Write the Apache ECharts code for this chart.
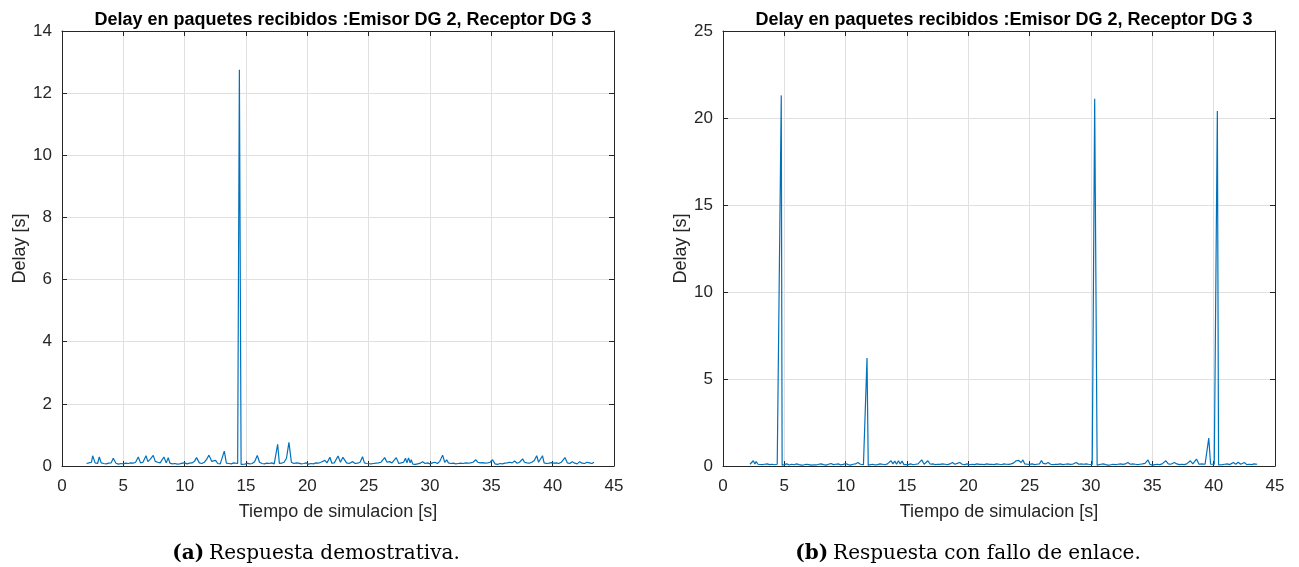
<!DOCTYPE html>
<html>
<head>
<meta charset="utf-8">
<script src="https://cdn.jsdelivr.net/npm/echarts@6/dist/echarts.min.js"></script>
<style>
html,body{margin:0;padding:0;background:#fff;}
#c{width:1299px;height:567px;}
</style>
</head>
<body>
<div id="c"></div>
<script>
// ---------- DATA ----------
const titleText = 'Delay en paquetes recibidos :Emisor DG 2, Receptor DG 3';
const xLabel = 'Tiempo de simulacion [s]';
const yLabel = 'Delay [s]';
const captionA = ['(a)', 'Respuesta demostrativa.'];
const captionB = ['(b)', 'Respuesta con fallo de enlace.'];

// (a) time [s] and delay [s]
const tA = [2.0,2.2,2.4,2.5,2.7,2.9,3.04,3.2,3.4,3.6,3.8,4.0,4.18,4.4,4.6,4.8,5.0,5.2,5.4,5.6,5.8,6.0,6.22,6.4,6.6,6.85,7.0,7.2,7.44,7.6,7.8,8.0,8.1,8.31,8.5,8.66,8.8,9.0,9.2,9.4,9.6,9.8,10.0,10.2,10.4,10.6,10.8,10.97,11.2,11.4,11.6,11.8,11.98,12.2,12.35,12.52,12.7,12.9,13.05,13.23,13.4,13.6,13.8,14.0,14.15,14.32,14.46,14.6,14.75,14.9,15.1,15.3,15.5,15.7,15.92,16.1,16.3,16.5,16.7,16.9,17.1,17.3,17.45,17.58,17.72,17.9,18.1,18.3,18.5,18.7,18.9,19.1,19.3,19.5,19.7,19.9,20.1,20.3,20.5,20.7,20.9,21.1,21.25,21.43,21.6,21.84,22.0,22.2,22.35,22.5,22.7,22.9,23.05,23.2,23.4,23.55,23.7,23.9,24.1,24.3,24.5,24.65,24.85,25.0,25.2,25.4,25.6,25.8,26.0,26.3,26.5,26.7,26.9,27.05,27.25,27.45,27.65,27.85,28.0,28.12,28.25,28.38,28.47,28.6,28.8,29.0,29.2,29.4,29.6,29.8,30.0,30.2,30.4,30.6,30.8,31.03,31.2,31.36,31.5,31.7,31.9,32.1,32.3,32.5,32.7,32.9,33.1,33.3,33.5,33.74,33.9,34.1,34.3,34.5,34.7,34.9,35.1,35.3,35.5,35.7,35.9,36.1,36.3,36.5,36.7,36.9,37.1,37.3,37.55,37.7,37.9,38.1,38.3,38.5,38.7,38.85,39.0,39.17,39.3,39.5,39.7,39.9,40.1,40.3,40.5,40.7,41.0,41.2,41.4,41.6,41.8,42.0,42.2,42.4,42.6,42.8,43.0,43.2,43.37];
const dA = [0.08,0.10,0.12,0.33,0.10,0.08,0.29,0.10,0.08,0.07,0.09,0.10,0.25,0.09,0.06,0.08,0.07,0.09,0.08,0.10,0.09,0.12,0.29,0.10,0.12,0.33,0.14,0.22,0.34,0.15,0.12,0.10,0.13,0.29,0.10,0.27,0.09,0.07,0.08,0.06,0.07,0.09,0.10,0.07,0.09,0.10,0.15,0.27,0.10,0.08,0.12,0.22,0.35,0.15,0.10,0.18,0.08,0.07,0.10,0.48,0.09,0.08,0.07,0.10,0.09,0.08,12.75,0.05,0.08,0.06,0.09,0.07,0.08,0.14,0.34,0.12,0.08,0.07,0.09,0.08,0.10,0.07,0.12,0.70,0.08,0.09,0.12,0.25,0.76,0.12,0.08,0.10,0.09,0.07,0.08,0.10,0.06,0.08,0.07,0.10,0.09,0.12,0.08,0.18,0.10,0.28,0.09,0.10,0.15,0.32,0.12,0.28,0.27,0.10,0.08,0.10,0.14,0.08,0.09,0.12,0.30,0.10,0.08,0.09,0.07,0.08,0.09,0.10,0.12,0.27,0.12,0.14,0.10,0.12,0.27,0.08,0.10,0.12,0.25,0.10,0.26,0.10,0.20,0.06,0.05,0.07,0.09,0.14,0.08,0.10,0.07,0.10,0.12,0.08,0.15,0.35,0.12,0.20,0.10,0.08,0.09,0.07,0.08,0.09,0.08,0.10,0.09,0.10,0.12,0.20,0.12,0.10,0.11,0.09,0.10,0.12,0.20,0.07,0.05,0.08,0.07,0.09,0.10,0.12,0.10,0.16,0.09,0.12,0.23,0.12,0.10,0.09,0.12,0.18,0.33,0.12,0.10,0.33,0.10,0.08,0.09,0.11,0.09,0.10,0.08,0.12,0.27,0.10,0.08,0.14,0.09,0.07,0.14,0.09,0.08,0.12,0.10,0.08,0.12];

// (b) time [s] and delay [s]
const tB = [2.2,2.35,2.47,2.6,2.7,2.85,3.0,3.2,3.4,3.6,3.8,4.0,4.2,4.42,4.75,4.82,5.0,5.2,5.4,5.6,5.8,6.0,6.2,6.4,6.6,6.8,7.0,7.2,7.4,7.6,7.8,8.0,8.2,8.4,8.6,8.8,9.0,9.2,9.4,9.6,9.8,10.0,10.2,10.4,10.6,10.8,11.0,11.2,11.45,11.57,11.74,11.84,12.0,12.2,12.4,12.6,12.8,13.0,13.2,13.4,13.7,13.85,14.0,14.15,14.3,14.45,14.6,14.75,14.9,15.1,15.3,15.5,15.7,15.9,16.2,16.4,16.7,16.9,17.1,17.3,17.5,17.7,17.9,18.1,18.3,18.5,18.7,18.9,19.1,19.3,19.5,19.7,19.9,20.1,20.3,20.5,20.7,20.9,21.1,21.3,21.5,21.7,21.9,22.1,22.3,22.5,22.7,22.9,23.1,23.3,23.5,23.7,23.9,24.1,24.3,24.45,24.6,24.8,25.0,25.2,25.4,25.6,25.8,25.96,26.1,26.3,26.5,26.7,26.9,27.1,27.3,27.5,27.7,27.9,28.1,28.3,28.5,28.8,29.0,29.2,29.4,29.6,29.8,30.1,30.3,30.5,30.6,30.8,31.0,31.2,31.4,31.6,31.8,32.0,32.2,32.4,32.6,32.8,33.0,33.2,33.4,33.6,33.8,34.0,34.2,34.4,34.65,34.8,35.0,35.2,35.4,35.6,35.8,36.1,36.3,36.5,36.8,37.0,37.2,37.4,37.6,37.8,38.1,38.3,38.6,38.8,39.0,39.1,39.3,39.6,39.75,39.9,40.05,40.3,40.4,40.5,40.7,40.9,41.1,41.3,41.6,41.8,42.0,42.2,42.5,42.7,42.9,43.1,43.3,43.55];
const dB = [0.10,0.15,0.30,0.12,0.25,0.10,0.12,0.08,0.10,0.12,0.08,0.10,0.07,0.10,21.3,0.05,0.08,0.12,0.06,0.10,0.07,0.12,0.08,0.05,0.07,0.10,0.08,0.05,0.07,0.06,0.10,0.12,0.08,0.05,0.10,0.14,0.08,0.10,0.12,0.06,0.09,0.14,0.08,0.05,0.10,0.12,0.20,0.10,0.08,0.10,6.2,0.05,0.08,0.10,0.06,0.08,0.12,0.10,0.07,0.12,0.30,0.12,0.28,0.10,0.30,0.12,0.28,0.08,0.10,0.08,0.12,0.07,0.10,0.12,0.35,0.10,0.30,0.10,0.12,0.08,0.10,0.09,0.12,0.10,0.08,0.12,0.20,0.10,0.15,0.20,0.10,0.08,0.12,0.07,0.10,0.08,0.12,0.09,0.10,0.08,0.12,0.09,0.10,0.08,0.12,0.10,0.07,0.12,0.10,0.09,0.12,0.18,0.30,0.32,0.20,0.35,0.12,0.10,0.09,0.12,0.08,0.10,0.12,0.32,0.15,0.12,0.20,0.10,0.08,0.10,0.09,0.12,0.08,0.10,0.12,0.09,0.10,0.20,0.10,0.12,0.10,0.12,0.10,0.08,21.1,0.05,0.08,0.10,0.12,0.08,0.05,0.07,0.10,0.08,0.10,0.12,0.09,0.12,0.20,0.10,0.12,0.10,0.08,0.10,0.12,0.15,0.35,0.10,0.05,0.08,0.10,0.08,0.12,0.30,0.12,0.10,0.20,0.12,0.08,0.10,0.08,0.12,0.30,0.12,0.40,0.10,0.12,0.20,0.10,1.6,0.10,0.08,0.10,20.4,0.06,0.10,0.08,0.10,0.12,0.08,0.20,0.10,0.22,0.10,0.20,0.08,0.10,0.08,0.12,0.10];

const xTicks = {min: 0, max: 45, interval: 5};
const yTicksA = {min: 0, max: 14, interval: 2};
const yTicksB = {min: 0, max: 25, interval: 5};

// ---------- CHART ----------
const FONT = '"Liberation Sans", Arial, Helvetica, sans-serif';
const SERIF = '"DejaVu Serif", "Liberation Serif", serif';
const AX = '#262626';
const GRIDC = '#e0e0e0';
const LINE = '#0072BD';

function pairs(t, d) { return t.map((v, i) => [v, d[i]]); }

const grids = [
  {left: 62, top: 31, width: 552, height: 435},
  {left: 723, top: 31, width: 552, height: 435}
];

function xAxes(gi) {
  return [
    {
      gridIndex: gi, type: 'value', position: 'bottom',
      min: xTicks.min, max: xTicks.max, interval: xTicks.interval,
      name: xLabel, nameLocation: 'middle', nameGap: 37,
      nameTextStyle: {fontFamily: FONT, fontSize: 18, color: AX},
      axisLine: {show: true, onZero: false, lineStyle: {color: AX, width: 1}},
      axisTick: {show: true, inside: true, length: 5, lineStyle: {color: AX}},
      axisLabel: {fontFamily: FONT, fontSize: 17, color: AX, margin: 12},
      splitLine: {show: true, lineStyle: {color: GRIDC, width: 1}}
    },
    {
      gridIndex: gi, type: 'value', position: 'top',
      min: xTicks.min, max: xTicks.max, interval: xTicks.interval,
      axisLine: {show: true, onZero: false, lineStyle: {color: AX, width: 1}},
      axisTick: {show: true, inside: true, length: 5, lineStyle: {color: AX}},
      axisLabel: {show: false}, splitLine: {show: false}
    }
  ];
}

function yAxes(gi, tk) {
  return [
    {
      gridIndex: gi, type: 'value', position: 'left',
      min: tk.min, max: tk.max, interval: tk.interval,
      name: yLabel, nameLocation: 'middle', nameGap: 33,
      nameTextStyle: {fontFamily: FONT, fontSize: 18, color: AX},
      axisLine: {show: true, onZero: false, lineStyle: {color: AX, width: 1}},
      axisTick: {show: true, inside: true, length: 5, lineStyle: {color: AX}},
      axisLabel: {fontFamily: FONT, fontSize: 17, color: AX, margin: 10},
      splitLine: {show: true, lineStyle: {color: GRIDC, width: 1}}
    },
    {
      gridIndex: gi, type: 'value', position: 'right',
      min: tk.min, max: tk.max, interval: tk.interval,
      axisLine: {show: true, onZero: false, lineStyle: {color: AX, width: 1}},
      axisTick: {show: true, inside: true, length: 5, lineStyle: {color: AX}},
      axisLabel: {show: false}, splitLine: {show: false}
    }
  ];
}

function caption(c, x) {
  return {
    text: '{b|' + c[0] + '} {n|' + c[1] + '}', left: x, top: 539, textAlign: 'center',
    textStyle: {fontWeight: 'normal', rich: {
      b: {fontFamily: SERIF, fontSize: 20, fontWeight: 'bold', color: '#000'},
      n: {fontFamily: SERIF, fontSize: 20, fontWeight: 'normal', color: '#000'}}}
  };
}

const chart = echarts.init(document.getElementById('c'), null, {renderer: 'canvas'});
chart.setOption({
  animation: false,
  backgroundColor: '#fff',
  title: [
    {text: titleText, left: 338, top: 6, textAlign: 'center',
     textStyle: {fontFamily: FONT, fontSize: 18, fontWeight: 'bold', color: '#000'}},
    {text: titleText, left: 999, top: 6, textAlign: 'center',
     textStyle: {fontFamily: FONT, fontSize: 18, fontWeight: 'bold', color: '#000'}},
    caption(captionA, 311),
    caption(captionB, 963)
  ],
  grid: grids,
  xAxis: [...xAxes(0), ...xAxes(1)],
  yAxis: [...yAxes(0, yTicksA), ...yAxes(1, yTicksB)],
  series: [
    {type: 'line', xAxisIndex: 0, yAxisIndex: 0, data: pairs(tA, dA),
     showSymbol: false, lineStyle: {color: LINE, width: 1.2}, itemStyle: {color: LINE}},
    {type: 'line', xAxisIndex: 2, yAxisIndex: 2, data: pairs(tB, dB),
     showSymbol: false, lineStyle: {color: LINE, width: 1.2}, itemStyle: {color: LINE}}
  ]
});
</script>
</body>
</html>
